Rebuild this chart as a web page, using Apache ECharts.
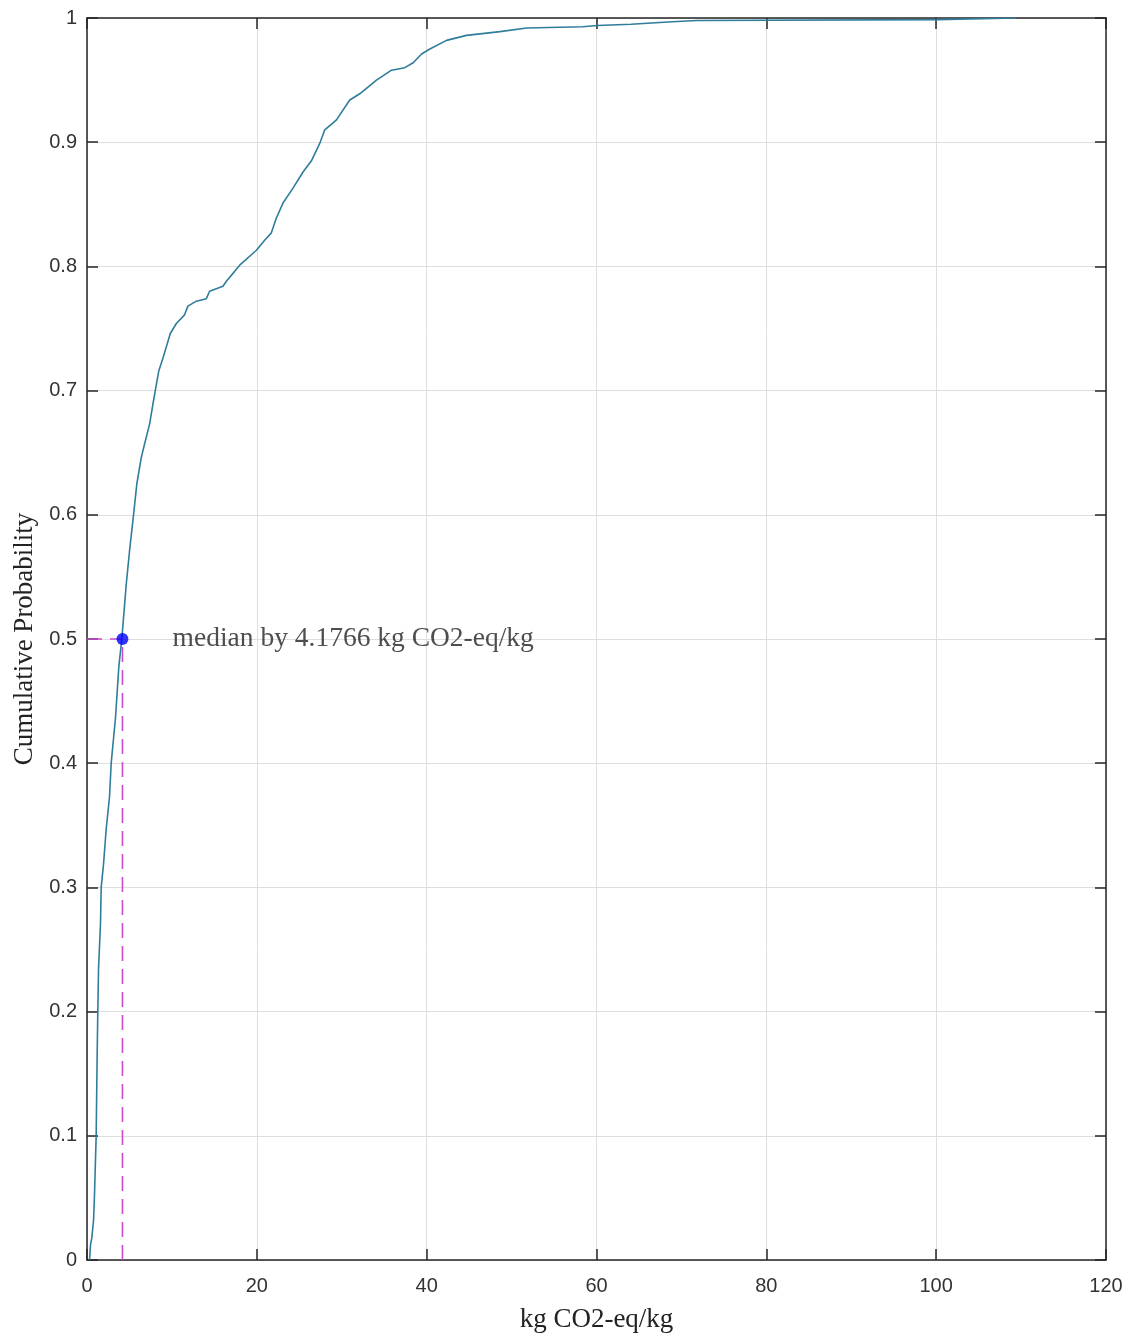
<!DOCTYPE html>
<html>
<head>
<meta charset="utf-8">
<script src="https://cdn.jsdelivr.net/npm/echarts@6/dist/echarts.min.js"></script>
<style>
  html, body { margin: 0; padding: 0; background: #fff; }
  #chart { width: 1132px; height: 1338px; }
</style>
</head>
<body>
<div id="chart"></div>
<script>
const ecdfX = [0.3, 0.41, 0.57, 0.77, 0.88, 1.08, 1.20, 1.27, 1.36, 1.59, 1.67, 1.95, 2.26, 2.65, 2.85,
  3.36, 3.75, 4.10, 4.62, 5.01, 5.48, 5.87, 6.39, 6.78, 7.37, 7.76, 8.04, 8.46, 8.94, 9.81, 10.52,
  11.49, 11.88, 12.87, 14.05, 14.44, 16.01, 16.41, 17.39, 17.98, 19.95, 20.92, 21.71, 22.30, 23.08,
  24.26, 25.44, 26.43, 27.41, 28.00, 29.38, 30.94, 32.12, 34.09, 35.86, 37.43, 38.41, 39.40, 40.38,
  42.34, 44.70, 48.63, 51.77, 58.37, 60.06, 64.07, 68.90, 71.85, 100.1, 100.3, 100.3, 109.4];
const ecdfY = [0, 0.012, 0.018, 0.032, 0.052, 0.100, 0.167, 0.199, 0.235, 0.271, 0.300, 0.319, 0.347, 0.373, 0.400,
  0.437, 0.478, 0.500, 0.544, 0.571, 0.600, 0.625, 0.646, 0.657, 0.673, 0.689, 0.700, 0.716, 0.726, 0.746, 0.754,
  0.761, 0.768, 0.772, 0.774, 0.780, 0.784, 0.788, 0.796, 0.801, 0.813, 0.821, 0.827, 0.839, 0.851,
  0.863, 0.876, 0.885, 0.899, 0.910, 0.918, 0.934, 0.939, 0.950, 0.958, 0.960, 0.964, 0.971, 0.975,
  0.982, 0.986, 0.989, 0.992, 0.993, 0.994, 0.995, 0.997, 0.998, 0.9987, 0.9987, 1.0, 1.0];

const medianValue = 4.1766;
const medianProb = 0.5;
const medianText = 'median by 4.1766 kg CO2-eq/kg';
const medianTextX = 10.08;

const xTicks = { min: 0, max: 120, interval: 20 };
const yTicks = { min: 0, max: 1, interval: 0.1 };
const xName = 'kg CO2-eq/kg';
const yName = 'Cumulative Probability';

const axisColor = '#262626';
const gridColor = '#dedede';
const serif = '"Liberation Serif", "Times New Roman", serif';
const sans = '"Liberation Sans", Arial, sans-serif';

const chart = echarts.init(document.getElementById('chart'));

function mainAxis(extra) {
  return Object.assign({
    type: 'value',
    axisLine: { show: true, onZero: false, lineStyle: { color: axisColor, width: 1.5 } },
    axisTick: { show: true, inside: true, length: 11, lineStyle: { color: axisColor, width: 1.5 } },
    splitLine: { show: true, lineStyle: { color: gridColor, width: 1 } }
  }, extra);
}
function mirrorAxis(extra) {
  return Object.assign({
    type: 'value',
    axisLine: { show: true, onZero: false, lineStyle: { color: axisColor, width: 1.5 } },
    axisTick: { show: true, inside: true, length: 11, lineStyle: { color: axisColor, width: 1.5 } },
    splitLine: { show: false },
    axisLabel: { show: false }
  }, extra);
}

const option = {
  animation: false,
  backgroundColor: '#ffffff',
  grid: { left: 87, right: 26, top: 18, bottom: 73, containLabel: false },
  xAxis: [
    mainAxis(Object.assign({}, xTicks, {
      position: 'bottom',
      name: xName, nameLocation: 'middle', nameGap: 46,
      nameTextStyle: { fontFamily: serif, fontSize: 27, color: '#222' },
      axisLabel: { color: '#333', fontFamily: sans, fontSize: 20, margin: 16 }
    })),
    mirrorAxis(Object.assign({}, xTicks, { position: 'top' }))
  ],
  yAxis: [
    mainAxis(Object.assign({}, yTicks, {
      position: 'left',
      name: yName, nameLocation: 'middle', nameGap: 48,
      nameTextStyle: { fontFamily: serif, fontSize: 27, color: '#222' },
      axisLabel: { color: '#333', fontFamily: sans, fontSize: 20, margin: 10 }
    })),
    mirrorAxis(Object.assign({}, yTicks, { position: 'right' }))
  ],
  series: [
    {
      type: 'line',
      data: ecdfX.map((x, i) => [x, ecdfY[i]]),
      showSymbol: false,
      symbol: 'none',
      lineStyle: { color: '#2f7d9b', width: 1.6 },
      z: 2
    },
    {
      type: 'line',
      data: [[0, medianProb], [medianValue, medianProb]],
      symbol: 'none',
      lineStyle: { color: '#c84ccc', width: 1.6, type: [15, 8] },
      z: 3
    },
    {
      type: 'line',
      data: [[medianValue, 0], [medianValue, medianProb]],
      symbol: 'none',
      lineStyle: { color: '#c84ccc', width: 1.6, type: [15, 8] },
      z: 3
    },
    {
      type: 'scatter',
      data: [[medianValue, medianProb]],
      symbol: 'circle',
      symbolSize: 12,
      itemStyle: { color: '#0000ff' },
      z: 4
    },
    {
      type: 'scatter',
      data: [[medianTextX, medianProb]],
      symbolSize: 0,
      label: {
        show: true, position: 'right', distance: 0,
        formatter: medianText,
        fontFamily: serif, fontSize: 27.5, color: '#222'
      },
      z: 5
    }
  ]
};
chart.setOption(option);
</script>
</body>
</html>
